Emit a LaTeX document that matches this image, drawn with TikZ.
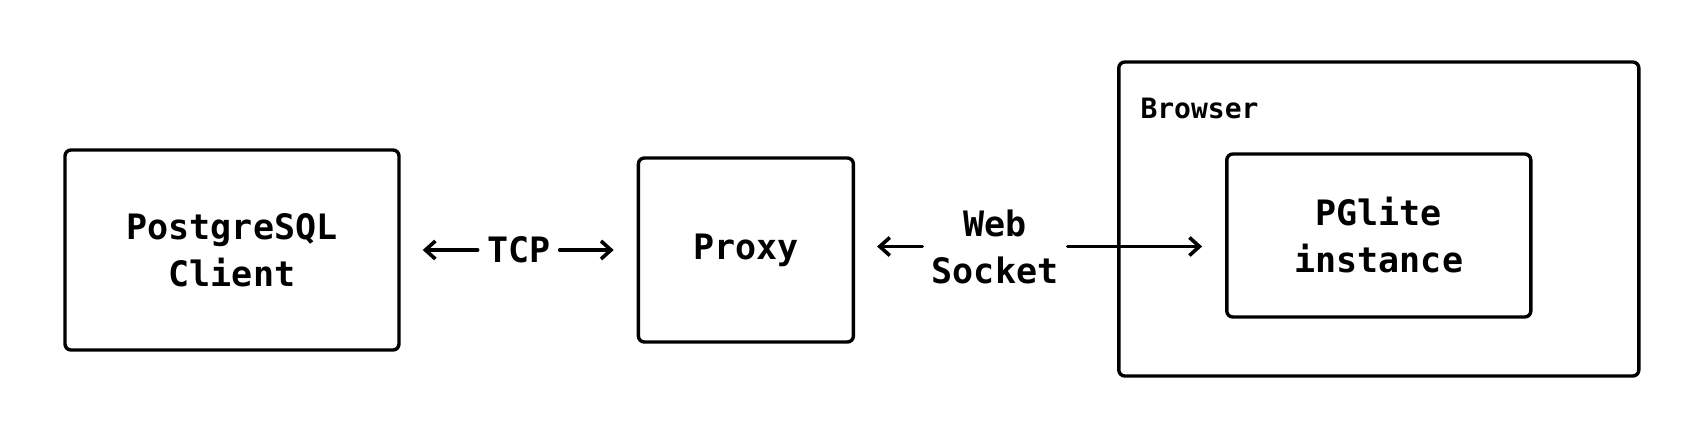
\documentclass[tikz,border=0pt]{standalone}
\usepackage{fontspec}
\setmonofont{DejaVu Sans Mono}
\usetikzlibrary{positioning, arrows.meta, calc}

\begin{document}
\begin{tikzpicture}[x=0.5pt, y=0.5pt,
    box/.style={rectangle, draw=black, line width=1.7pt, rounded corners=3pt, fill=none,
        text centered, align=center, text=black,
        font=\ttfamily\bfseries\fontsize{17.5}{23.5}\selectfont},
    edgetext/.style={rectangle, draw=none, fill=none, inner sep=4.5pt, align=center, text=black,
        font=\ttfamily\bfseries\fontsize{17.5}{23.5}\selectfont},
    tag/.style={rectangle, draw=none, fill=none, inner sep=0pt, anchor=west, text=black,
        font=\ttfamily\bfseries\fontsize{14}{16}\selectfont},
    arr/.style={-{Straight Barb[length=5pt, width=9pt]}, line width=1.8pt, line cap=round}
]
\useasboundingbox (0,0) rectangle (1703,440);

\node (Client) [box, minimum width=167pt, minimum height=100pt] at (232,190) {PostgreSQL\\Client};
\node (Proxy) [box, minimum width=107.5pt, minimum height=92pt, right=118pt of Client] {Proxy};
\node (Browser) [box, minimum width=260pt, minimum height=157pt, right=131pt of Proxy, yshift=15.5pt] {};
\node (PGlite) [box, minimum width=152pt, minimum height=81.5pt] at ([yshift=-8.25pt]Browser.center) {PGlite\\instance};
\node (BrowserTag) [tag] at ([xshift=11.5pt, yshift=-24pt]Browser.north west) {Browser};

\node (TCP) [edgetext] at ($(Client.east)!0.5!(Proxy.west)$) {TCP};
\node (WS) [edgetext] at (995,193.5) {Web\\Socket};

\draw[arr, shorten >=11pt] (TCP.west) -- (Client.east |- TCP.west);
\draw[arr, shorten >=11.5pt] (TCP.east) -- (Proxy.west |- TCP.east);
\draw[arr, shorten >=11pt] (WS.west) -- (Proxy.east |- WS.west);
\draw[arr, shorten >=11.5pt] (WS.east) -- (PGlite.west |- WS.east);
\end{tikzpicture}
\end{document}
